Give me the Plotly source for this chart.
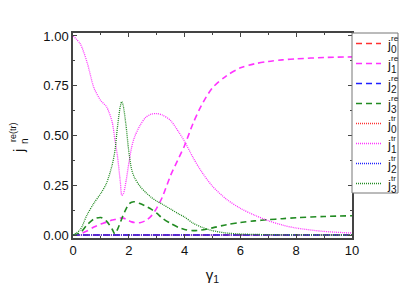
import plotly.graph_objects as go

gamma = [0, 0.25, 0.5, 0.75, 1.0, 1.2, 1.4, 1.5, 1.6, 1.7, 1.75, 1.8, 1.9, 2.0, 2.1, 2.2,
         2.4, 2.6, 2.8, 3.0, 3.2, 3.5, 3.8, 4.0, 4.3, 4.6, 5.0, 5.5, 6.0, 6.5, 7.0, 7.5,
         8.0, 9.0, 10.0]

j0_re = [0.0] * len(gamma)
j1_re = [0.0, 0.005, 0.02, 0.04, 0.055, 0.065, 0.075, 0.078, 0.082, 0.085, 0.086, 0.085,
         0.08, 0.072, 0.066, 0.063, 0.062, 0.072, 0.095, 0.135, 0.19, 0.3, 0.39, 0.45,
         0.56, 0.65, 0.74, 0.8, 0.84, 0.86, 0.872, 0.88, 0.885, 0.892, 0.895]
j2_re = [0.0] * len(gamma)
j3_re = [0.0, 0.01, 0.05, 0.08, 0.088, 0.07, 0.03, 0.006, 0.03, 0.065, 0.082, 0.1,
         0.13, 0.155, 0.165, 0.167, 0.158, 0.145, 0.13, 0.11, 0.085, 0.058, 0.037, 0.028,
         0.022, 0.025, 0.036, 0.052, 0.063, 0.071, 0.077, 0.082, 0.087, 0.093, 0.097]

j0_tr = [0.0] * len(gamma)
j1_tr = [1.0, 0.963, 0.87, 0.74, 0.675, 0.645, 0.57, 0.48, 0.39, 0.26, 0.2, 0.205,
         0.27, 0.36, 0.44, 0.49, 0.55, 0.59, 0.607, 0.61, 0.603, 0.575, 0.515, 0.47,
         0.39, 0.32, 0.245, 0.18, 0.134, 0.1, 0.072, 0.05, 0.035, 0.018, 0.01]
j2_tr = [0.0] * len(gamma)
j3_tr = [0.0, 0.025, 0.1, 0.16, 0.21, 0.26, 0.35, 0.42, 0.55, 0.65, 0.67, 0.65, 0.55,
         0.42, 0.33, 0.29, 0.245, 0.215, 0.19, 0.17, 0.155, 0.13, 0.105, 0.09, 0.06,
         0.04, 0.022, 0.01, 0.005, 0.003, 0.002, 0.001, 0.001, 0.0, 0.0]

# (superscript, subscript, values, colour, style)
series = [
    ("re", "0", j0_re, "#ff3030", "dash"),
    ("re", "1", j1_re, "#ff33ff", "dash"),
    ("re", "2", j2_re, "#2020ff", "dash"),
    ("re", "3", j3_re, "#228b22", "dash"),
    ("tr", "0", j0_tr, "#ff3030", "dot"),
    ("tr", "1", j1_tr, "#ff33ff", "dot"),
    ("tr", "2", j2_tr, "#2020ff", "dot"),
    ("tr", "3", j3_tr, "#228b22", "dot"),
]

# page body has an 8px default margin; compensate so the chart fills the window
OFF = 8
W, H = 409 - OFF, 286 - OFF
ML, MR, MT, MB = 73 - OFF, 57, 33 - OFF, 48
PW, PH = W - ML - MR, H - MT - MB


def px(x):
    return (x - OFF - ML) / PW


def py(y):
    return (H - MB - (y - OFF)) / PH


FONT = "Liberation Sans, Arial"
DASH = "6px,4px"
DOT = "1px,1px"

fig = go.Figure()
for sup, sub, ys, color, style in series:
    fig.add_trace(go.Scatter(
        x=gamma, y=ys, name=f"j<sup>{sup}</sup><sub>{sub}</sub>", mode="lines",
        showlegend=False,
        line=dict(color=color, dash=DASH if style == "dash" else DOT,
                  width=1.6 if style == "dash" else 1.3, shape="spline", smoothing=0.8),
    ))

shapes = []
annotations = []
# legend box
shapes.append(dict(type="rect", xref="paper", yref="paper",
                   x0=px(352), x1=px(398), y0=py(193), y1=py(33),
                   line=dict(color="#777777", width=1), fillcolor="white", layer="above"))
for i, (sup, sub, ys, color, style) in enumerate(series):
    cy = 43.5 + 20 * i
    shapes.append(dict(type="line", xref="paper", yref="paper",
                       x0=px(356), x1=px(381), y0=py(cy), y1=py(cy), layer="above",
                       line=dict(color=color, dash=DASH if style == "dash" else DOT,
                                 width=1.6 if style == "dash" else 1.3)))
    annotations.append(dict(xref="paper", yref="paper", x=px(385), y=py(cy + 1),
                            text="j", showarrow=False, xanchor="left", yanchor="middle",
                            font=dict(family=FONT, size=13, color="#111111")))
    annotations.append(dict(xref="paper", yref="paper", x=px(389), y=py(cy - 5),
                            text=sup, showarrow=False, xanchor="left", yanchor="middle",
                            font=dict(family=FONT, size=8, color="#111111")))
    annotations.append(dict(xref="paper", yref="paper", x=px(389), y=py(cy + 6),
                            text=sub, showarrow=False, xanchor="left", yanchor="middle",
                            font=dict(family=FONT, size=10, color="#111111")))

# y axis title, stacked like the reference
annotations.append(dict(xref="paper", yref="paper", x=px(18), y=py(151), text="j",
                        textangle=-90, showarrow=False, xanchor="center", yanchor="middle",
                        font=dict(family=FONT, size=15, color="#111111")))
annotations.append(dict(xref="paper", yref="paper", x=px(24), y=py(141), text="n",
                        textangle=-90, showarrow=False, xanchor="center", yanchor="middle",
                        font=dict(family=FONT, size=10, color="#111111")))
annotations.append(dict(xref="paper", yref="paper", x=px(13), y=py(132), text="re(tr)",
                        textangle=-90, showarrow=False, xanchor="center", yanchor="middle",
                        font=dict(family=FONT, size=9, color="#111111")))

axis_common = dict(
    showgrid=False, zeroline=False, showline=True, linecolor="#444444", linewidth=1.5,
    mirror="ticks", ticks="inside", ticklen=4, tickcolor="#444444", automargin=False,
    tickfont=dict(family=FONT, size=13, color="#111111"),
)

fig.update_layout(
    width=W, height=H,
    margin=dict(l=ML, r=MR, t=MT, b=MB),
    paper_bgcolor="white", plot_bgcolor="white",
    font=dict(family=FONT, color="#111111"),
    showlegend=False,
    shapes=shapes,
    annotations=annotations,
    xaxis=dict(
        range=[0, 10], tickvals=[0, 2, 4, 6, 8, 10],
        minor=dict(ticks="inside", ticklen=2, dtick=1, tickcolor="#444444"),
        title=dict(text="γ<sub>1</sub>", font=dict(family=FONT, size=15), standoff=12),
        **axis_common,
    ),
    yaxis=dict(
        range=[-0.015, 1.015], tickvals=[0, 0.25, 0.5, 0.75, 1.0], tickformat=".2f",
        minor=dict(ticks="inside", ticklen=2, dtick=0.125, tickcolor="#444444"),
        **axis_common,
    ),
)

fig.write_html("out.html")
